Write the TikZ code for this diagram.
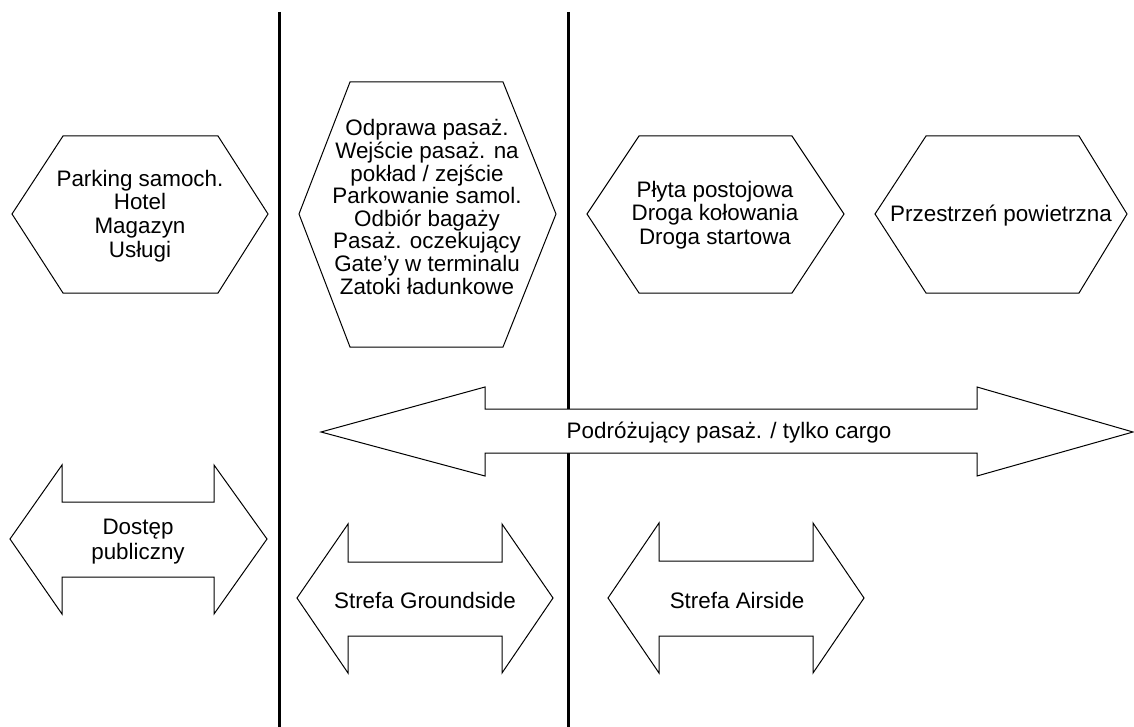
\documentclass[tikz,border=0pt]{standalone}
\usepackage{fontspec}
\setmainfont{Liberation Sans}
\begin{document}
\begin{tikzpicture}[x=1pt,y=-1pt,
  shapeline/.style={draw=black,line width=1pt,fill=white,line join=miter},
  zone/.style={draw=black,line width=3pt},
  lbl/.style={align=center,font=\fontsize{22.4}{23.6}\selectfont,inner sep=0pt},
  lblmid/.style={align=center,font=\fontsize{22.4}{22.6}\selectfont,inner sep=0pt},
  lblwide/.style={align=center,font=\fontsize{22.4}{25}\selectfont,inner sep=0pt}]
\useasboundingbox (0,0) rectangle (1134,727);
% zone dividers
\coordinate (l1t) at (279,12); \coordinate (l1b) at (279,727);
\coordinate (l2t) at (568,12); \coordinate (l2b) at (568,727);
\draw[zone] (l1t) -- (l1b);
\draw[zone] (l2t) -- (l2b);
% hexagons
\draw[shapeline] (12,214) -- (63,136) -- (218,136) -- (268,214) -- (218,293) -- (63,293) -- cycle;
\draw[shapeline] (299,214) -- (350,82) -- (503,82) -- (556,214) -- (503,347) -- (350,347) -- cycle;
\draw[shapeline] (587,214) -- (639,136) -- (792,136) -- (844,214) -- (792,293) -- (639,293) -- cycle;
\draw[shapeline] (875,214) -- (926,136) -- (1079,136) -- (1127,214) -- (1079,293) -- (926,293) -- cycle;
% double arrows
\draw[shapeline] (321,432) -- (485,387) -- (485,409) -- (977,409) -- (977,387) -- (1133,432) -- (977,476) -- (977,453) -- (485,453) -- (485,476) -- cycle;
\draw[shapeline] (10,539) -- (62,465) -- (62,502) -- (214,502) -- (214,465) -- (267,539) -- (214,614) -- (214,577) -- (62,577) -- (62,614) -- cycle;
\draw[shapeline] (297,598) -- (348,524) -- (348,562) -- (502,562) -- (502,524) -- (553,598) -- (502,673) -- (502,636) -- (348,636) -- (348,673) -- cycle;
\draw[shapeline] (608,598) -- (659,523) -- (659,561) -- (813,561) -- (813,523) -- (864,598) -- (813,673) -- (813,636) -- (659,636) -- (659,673) -- cycle;
% labels
\node[lbl] (land) at (140,216) {Parking samoch.\\Hotel\\Magazyn\\Usługi};
\node[lblmid] (term) at (427,207) {Odprawa pasaż.\\Wejście pasaż. na\\pokład / zejście\\Parkowanie samol.\\Odbiór bagaży\\Pasaż. oczekujący\\Gate’y w terminalu\\Zatoki ładunkowe};
\node[lbl] (apron) at (715,215) {Płyta postojowa\\Droga kołowania\\Droga startowa};
\node[lbl] (air) at (1001,216) {Przestrzeń powietrzna};
\node[lbl] (trav) at (729,433) {Podróżujący pasaż. / tylko cargo};
\node[lblwide] (pub) at (138,542) {Dostęp\\publiczny};
\node[lbl] (gs) at (425,600) {Strefa Groundside};
\node[lbl] (as) at (737,600) {Strefa Airside};
\end{tikzpicture}
\end{document}
